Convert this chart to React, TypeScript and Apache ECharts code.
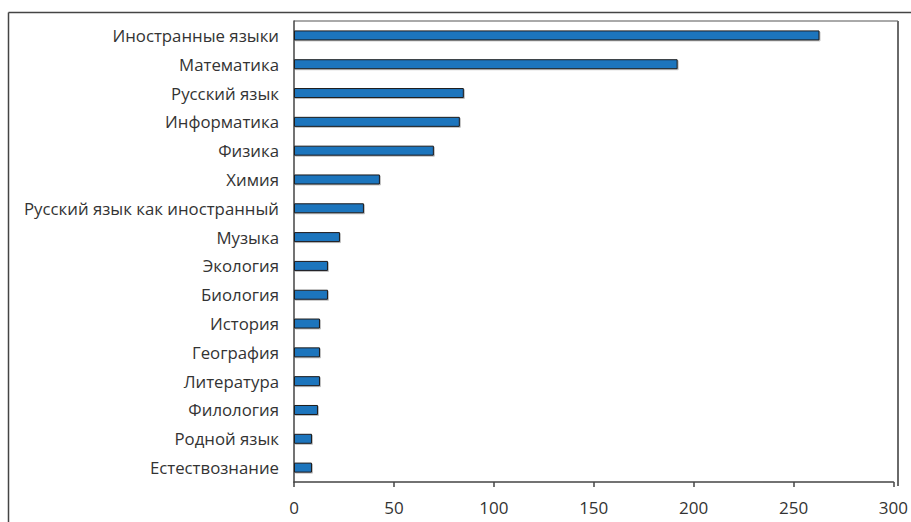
import React, { useEffect, useRef } from "react";
import * as echarts from "echarts";

const categories = [
  "Иностранные языки",
  "Математика",
  "Русский язык",
  "Информатика",
  "Физика",
  "Химия",
  "Русский язык как иностранный",
  "Музыка",
  "Экология",
  "Биология",
  "История",
  "География",
  "Литература",
  "Филология",
  "Родной язык",
  "Естествознание",
];
const values = [263, 192, 85, 83, 70, 43, 35, 23, 17, 17, 13, 13, 13, 12, 9, 9];
const xTicks = [0, 50, 100, 150, 200, 250, 300];

export default function App() {
  const ref = useRef<HTMLDivElement>(null);
  useEffect(() => {
    if (!ref.current) return;
    const chart = echarts.init(ref.current, null, { renderer: "svg" });
    const font = "'Open Sans', 'Noto Sans', sans-serif";
    const gl = 294, gt = 21, gr = 898, gb = 482;
    chart.setOption({
      animation: false,
      backgroundColor: "#ffffff",
      grid: { left: gl, top: gt, right: 911 - gr, bottom: 522 - gb, containLabel: false },
      xAxis: {
        type: "value",
        min: xTicks[0],
        max: xTicks[xTicks.length - 1],
        interval: 50,
        axisLine: { show: true, lineStyle: { color: "#444", width: 1.5 } },
        axisTick: { show: true, length: 5, lineStyle: { color: "#444", width: 1.5 } },
        splitLine: { show: false },
        axisLabel: { color: "#333", fontSize: 17, fontFamily: font, margin: 17 },
      },
      yAxis: {
        type: "category",
        data: categories,
        inverse: true,
        axisLine: { show: true, lineStyle: { color: "#444", width: 1.5 } },
        axisTick: { show: false },
        axisLabel: { color: "#333", fontSize: 16.8, fontFamily: font, margin: 15 },
      },
      series: [
        {
          type: "bar",
          data: values,
          barWidth: 10,
          itemStyle: {
            color: "#1f74bd",
            borderColor: "#1c1c1c",
            borderWidth: 1,
            shadowColor: "rgba(0,0,0,0.25)",
            shadowOffsetX: 1,
            shadowOffsetY: 1,
            shadowBlur: 0,
          },
        },
      ],
      graphic: [
        {
          type: "line",
          shape: { x1: 8.5, y1: 12.5, x2: 911, y2: 12.5 },
          style: { stroke: "#444", lineWidth: 1.5 },
          silent: true,
        },
        {
          type: "line",
          shape: { x1: 8.5, y1: 12.5, x2: 8.5, y2: 522 },
          style: { stroke: "#444", lineWidth: 1.5 },
          silent: true,
        },
        {
          type: "line",
          shape: { x1: gl, y1: gt, x2: gr, y2: gt },
          style: { stroke: "#555", lineWidth: 1 },
          silent: true,
        },
        {
          type: "line",
          shape: { x1: gr, y1: gt, x2: gr, y2: gb + 4 },
          style: { stroke: "#6a6a6a", lineWidth: 2 },
          silent: true,
        },
      ],
    });
    return () => chart.dispose();
  }, []);
  return (
    <div
      ref={ref}
      style={{ position: "fixed", left: 0, top: 0, width: 911, height: 522 }}
    />
  );
}
